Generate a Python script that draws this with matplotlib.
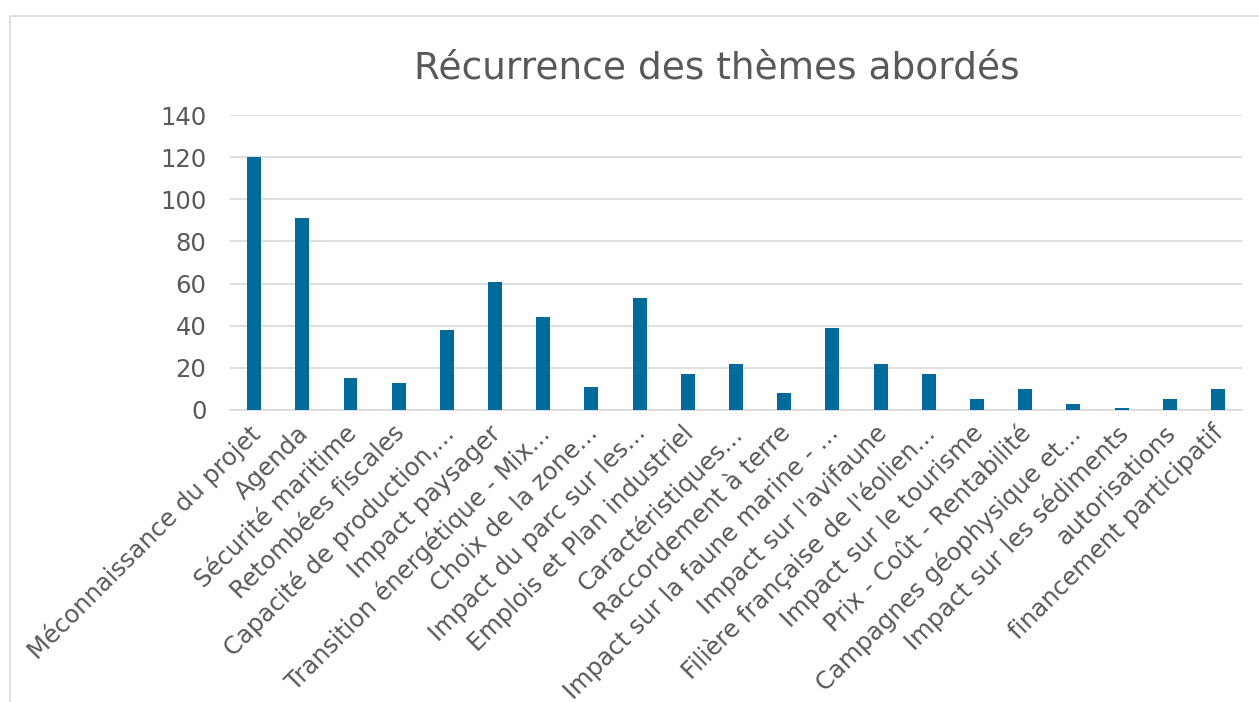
import matplotlib.pyplot as plt
from matplotlib.patches import Rectangle
from matplotlib.transforms import ScaledTranslation

# themes and how often they came up
themes = [
    "Méconnaissance du projet", "Agenda", "Sécurité maritime",
    "Retombées fiscales", "Capacité de production,...", "Impact paysager",
    "Transition énergétique - Mix...", "Choix de la zone...",
    "Impact du parc sur les...", "Emplois et Plan industriel",
    "Caractéristiques...", "Raccordement à terre",
    "Impact sur la faune marine - ...", "Impact sur l'avifaune",
    "Filière française de l'éolien...", "Impact sur le tourisme",
    "Prix - Coût - Rentabilité", "Campagnes géophysique et...",
    "Impact sur les sédiments", "autorisations", "financement participatif",
]
counts = [120, 91, 15, 13, 38, 61, 44, 11, 53, 17, 22, 8, 39, 22, 17, 5, 10, 3, 1, 5, 10]

txt = '#595959'

fig = plt.figure(figsize=(12.59, 7.02), dpi=100)
# light frame around the chart
fig.patches.append(Rectangle((10 / 1259, -0.1), 1.2, 1.1 - 16 / 702,
                             transform=fig.transFigure, fill=False,
                             edgecolor='#d9d9d9', linewidth=1.2))

ax = fig.add_axes([0.1827, 0.416, 0.8038, 0.42])
x = range(len(themes))
ax.bar(x, counts, width=0.29, color='#006b9b', zorder=3)

ax.set_ylim(0, 140)
ax.set_xlim(-0.5, len(themes) - 0.5)
ax.set_yticks(range(0, 141, 20))
ax.yaxis.grid(True, color='#d9d9d9', linewidth=1.2, zorder=0)
for s in ['top', 'right', 'left']:
    ax.spines[s].set_visible(False)
ax.spines['bottom'].set_color('#d9d9d9')
ax.spines['bottom'].set_linewidth(1.2)
ax.tick_params(axis='both', length=0, labelsize=17.5, colors=txt, pad=8)
ax.tick_params(axis='y', pad=17)

ax.set_xticks(list(x))
ax.set_xticklabels(themes, rotation=45, ha='right', rotation_mode='anchor')
# nudge labels a bit to the left, like the original
shift = ScaledTranslation(-6 / 100, 0, fig.dpi_scale_trans)
for lab in ax.get_xticklabels():
    lab.set_transform(lab.get_transform() + shift)

fig.text(0.569, 0.903, "Récurrence des thèmes abordés", ha='center', va='center',
         fontsize=27, color=txt)

plt.savefig("out.png", dpi=100)
plt.close()
